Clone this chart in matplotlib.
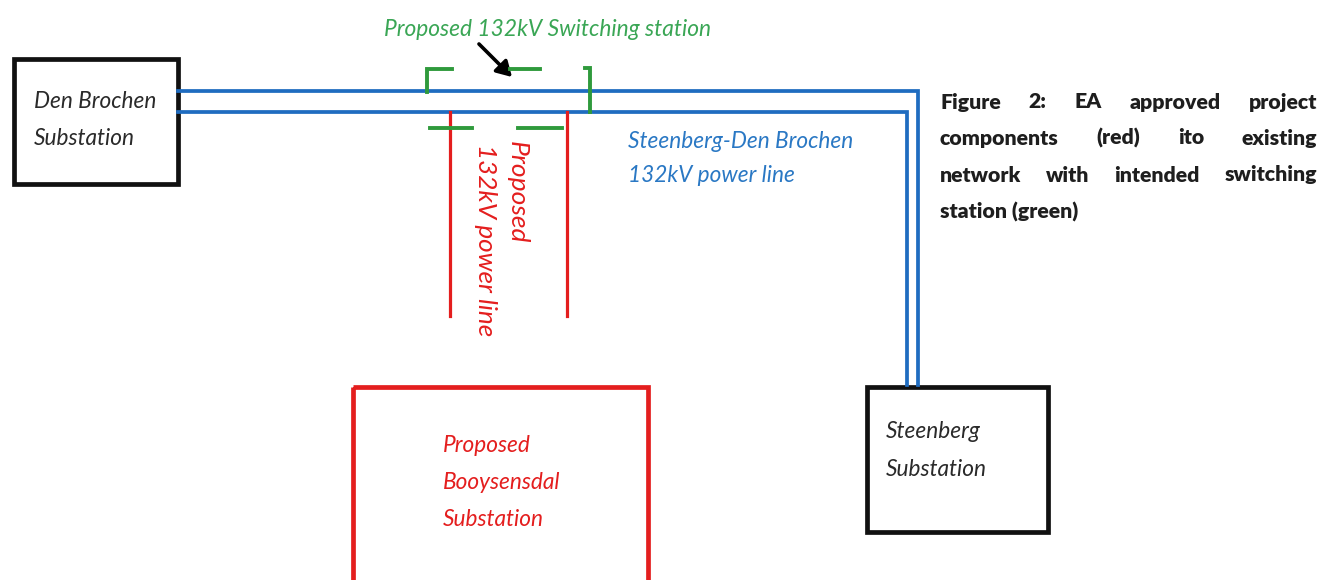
import matplotlib
matplotlib.use("Agg")
import matplotlib.pyplot as plt
from matplotlib.patches import Rectangle, FancyArrowPatch

# diagram elements, in picture pixels (x right, y down)
FONT = "Lato"
BLUE = "#1f6cc0"
RED = "#e41e1e"
GREEN = "#2f9a3c"

boxes = [
    # x0, y0, x1, y1, colour
    (14, 59, 178, 184, "#111111"),
    (867, 387, 1048, 532, "#111111"),
    (353, 387, 648, 600, RED),
]
box_labels = [
    (34, ["Den Brochen", "Substation"], "#2a2a2a"),
    (886, ["Steenberg", "Substation"], "#2a2a2a"),
    (443, ["Proposed", "Booysensdal", "Substation"], RED),
]
box_label_top = [101, 432, 445]

blue_lines = [
    ([178, 918, 918], [91, 91, 385]),
    ([178, 907, 907], [112, 112, 385]),
]
red_lines = [
    ([450, 450], [112, 316]),
    ([567, 567], [112, 316]),
]
green_lines = [
    ([427, 427, 452], [92, 69, 69]),
    ([510, 540], [69, 69]),
    ([585, 590, 590], [68, 68, 112]),
    ([430, 472], [128, 128]),
    ([518, 562], [128, 128]),
]

caption = [
    ["Figure", "2:", "EA", "approved", "project"],
    ["components", "(red)", "ito", "existing"],
    ["network", "with", "intended", "switching"],
    ["station (green)"],
]
caption_y = [102, 138, 175, 212]

fig = plt.figure(figsize=(13.21, 5.8), dpi=100)
ax = fig.add_axes([0, 0, 1, 1])
ax.set_xlim(0, 1321)
ax.set_ylim(580, 0)
ax.axis("off")

for x0, y0, x1, y1, c in boxes:
    ax.add_patch(Rectangle((x0, y0), x1 - x0, y1 - y0, fill=False, ec=c, lw=3.4))

for (x, lines, c), top in zip(box_labels, box_label_top):
    for i, t in enumerate(lines):
        ax.text(x, top + i * 37.5, t, fontsize=16.3, style="italic", family=FONT,
                color=c, va="center", ha="left")

for xs, ys in blue_lines:
    ax.plot(xs, ys, color=BLUE, lw=2.7, solid_joinstyle="miter")
for xs, ys in red_lines:
    ax.plot(xs, ys, color=RED, lw=2.3)
for xs, ys in green_lines:
    ax.plot(xs, ys, color=GREEN, lw=2.8, solid_joinstyle="miter")

ax.add_patch(FancyArrowPatch((477, 42), (514, 79), arrowstyle="-|>,head_length=6,head_width=3.5",
                             color="black", lw=2.6, mutation_scale=1.5))

ax.text(384, 29, "Proposed 132kV Switching station", fontsize=16.4, style="italic",
        family=FONT, color="#3aa655", va="center", ha="left")

ax.text(628, 141, "Steenberg-Den Brochen", fontsize=16.3, style="italic",
        family=FONT, color="#2a78c4", va="center", ha="left")
ax.text(628, 175, "132kV power line", fontsize=16.3, style="italic",
        family=FONT, color="#2a78c4", va="center", ha="left")

ax.text(517, 141, "Proposed", fontsize=19, style="italic", family=FONT, color=RED,
        rotation=270, va="center", ha="left", rotation_mode="anchor")
ax.text(485, 144, "132kV power line", fontsize=18.8, style="italic", family=FONT,
        color=RED, rotation=270, va="center", ha="left", rotation_mode="anchor")

# justified caption
fig.canvas.draw()
r = fig.canvas.get_renderer()
left, right = 940, 1317
for words, y in zip(caption, caption_y):
    if len(words) == 1:
        ax.text(left, y, words[0], fontsize=15.3, weight="heavy", family=FONT,
                color="#1e1e1e", va="center", ha="left")
        continue
    arts = [ax.text(0, y, w, fontsize=15.3, weight="heavy", family=FONT,
                    color="#1e1e1e", va="center", ha="left") for w in words]
    widths = [a.get_window_extent(r).width for a in arts]
    gap = (right - left - sum(widths)) / (len(words) - 1)
    x = left
    for a, w in zip(arts, widths):
        a.set_x(x)
        x += w + gap

fig.savefig("out.png", dpi=100)
